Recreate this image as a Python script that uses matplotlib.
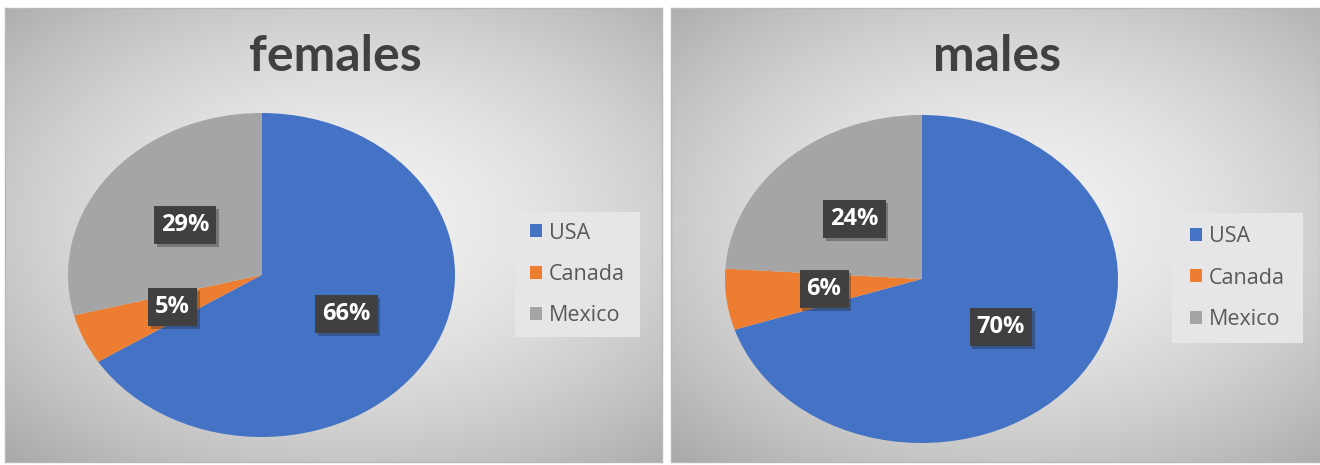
import numpy as np
import matplotlib
matplotlib.use("Agg")
import matplotlib.pyplot as plt
from matplotlib.patches import Patch
import matplotlib.patheffects as pe

W, H = 1320, 465

countries = ["USA", "Canada", "Mexico"]
colors = ["#4472C4", "#ED7D31", "#A5A5A5"]
females = [66, 5, 29]
males = [70, 6, 24]

# panel boxes and pie boxes in pixels: (x0, y0, x1, y1), y from the top
panels = [
    dict(title="females", values=females, box=(5, 8, 662, 462),
         pie=(68, 113, 455, 437), legend=(515, 212, 640, 337)),
    dict(title="males", values=males, box=(671, 8, 1320, 462),
         pie=(725, 115, 1118, 443), legend=(1172, 213, 1303, 343)),
]


def frac(box):
    x0, y0, x1, y1 = box
    return [x0 / W, 1 - y1 / H, (x1 - x0) / W, (y1 - y0) / H]


def radial_bg(nx=300, ny=220):
    x = np.linspace(-1, 1, nx)
    y = np.linspace(-1, 1, ny)
    X, Y = np.meshgrid(x, y)
    r = np.sqrt(((X - 0.05) * 0.95) ** 2 + ((Y + 0.05) * 1.0) ** 2)
    g = 0.95 - 0.16 * np.clip(r, 0, 1.45) ** 1.6
    return np.dstack([g, g, g])


fig = plt.figure(figsize=(W / 100, H / 100), dpi=100)
fig.patch.set_facecolor("white")

for p in panels:
    bg = fig.add_axes(frac(p["box"]))
    bg.imshow(radial_bg(), aspect="auto", extent=(0, 1, 0, 1))
    bg.set_xticks([])
    bg.set_yticks([])
    for s in bg.spines.values():
        s.set_color("#b8b8b8")
        s.set_linewidth(1.0)

    x0, y0, x1, y1 = p["box"]
    fig.text(((x0 + x1) / 2 + 2) / W, 1 - 56 / H, p["title"], ha="center", va="center",
             fontsize=36, fontweight="bold", color="#404040", family="Lato")

    ax = fig.add_axes(frac(p["pie"]))
    wedges, _, autotexts = ax.pie(
        p["values"], colors=colors, startangle=90, counterclock=False,
        autopct="%.0f%%", pctdistance=0.5, radius=1,
        wedgeprops=dict(edgecolor="none"),
        textprops=dict(color="white", fontsize=17, fontweight="bold", family="Open Sans"))
    ax.set_aspect("auto")
    ax.set_xlim(-1, 1)
    ax.set_ylim(-1, 1)
    ax.axis("off")
    for t in autotexts:
        t.set_bbox(dict(boxstyle="square,pad=0.3", fc="#404040", ec="none",
                        path_effects=[pe.withSimplePatchShadow(offset=(2, -2), alpha=0.3)]))

    lg_box = fig.add_axes(frac(p["legend"]))
    lg_box.set_facecolor("#e6e6e6")
    lg_box.set_xticks([])
    lg_box.set_yticks([])
    for s in lg_box.spines.values():
        s.set_visible(False)
    handles = [Patch(facecolor=c, edgecolor="none") for c in colors]
    leg = lg_box.legend(handles, countries, loc="center", frameon=False,
                        labelspacing=0.95, handlelength=0.55,
                        handleheight=0.55, handletextpad=0.3,
                        prop=dict(family="Open Sans", size=15.5))
    for t in leg.get_texts():
        t.set_color("#595959")

fig.savefig("out.png", dpi=100, facecolor=fig.get_facecolor())
